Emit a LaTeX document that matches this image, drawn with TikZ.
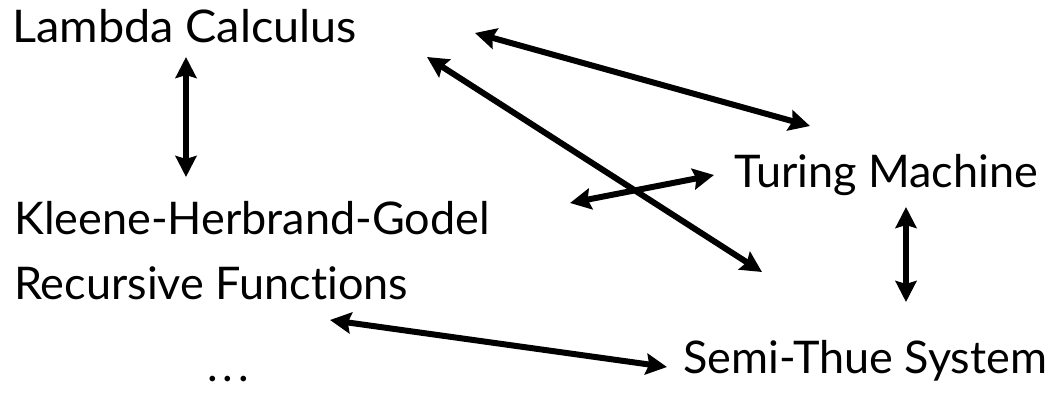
\documentclass[tikz,border=0pt]{standalone}
\usepackage{fontspec}
\setmainfont[Ligatures=NoCommon]{Lato}
\usetikzlibrary{arrows.meta}
\begin{document}
\begin{tikzpicture}[x=1pt,y=1pt,
  label/.style={anchor=base west, inner sep=0pt, font=\fontsize{45}{50}\selectfont},
  link/.style={line width=6pt, {Stealth[length=21pt,width=21pt,inset=3pt]}-{Stealth[length=21pt,width=21pt,inset=3pt]}}]
  \useasboundingbox (0,0) rectangle (1053,392);

  % formalisms
  \node[label] (lambda) at (12,349) {\scalebox{1.04}[1]{Lambda Calculus}};
  \node[label] (turing) at (734,205) {Turing Machine};
  \node[label] (khg) at (14,158) {Kleene-Herbrand-Godel};
  \node[label] (rec) at (14,93) {Recursive Functions};
  \node[label] (thue) at (683,19) {Semi-Thue System};
  \node[label] (more) at (207,11) {.\kern5pt.\kern5pt.};

  % arrow ends
  \coordinate (l1) at (186,335);
  \coordinate (k1) at (186,215);
  \coordinate (l2) at (475,359);
  \coordinate (t2) at (810,266);
  \coordinate (l3) at (427,335);
  \coordinate (s3) at (762,120);
  \coordinate (k4) at (570,189);
  \coordinate (t4) at (714,217);
  \coordinate (t5) at (906,185);
  \coordinate (s5) at (906,90);
  \coordinate (r6) at (330,72);
  \coordinate (s6) at (667,25);

  % equivalences
  \draw[link] (l1) -- (k1);
  \draw[link] (l2) -- (t2);
  \draw[link] (l3) -- (s3);
  \draw[link] (k4) -- (t4);
  \draw[link] (t5) -- (s5);
  \draw[link] (r6) -- (s6);
\end{tikzpicture}
\end{document}
